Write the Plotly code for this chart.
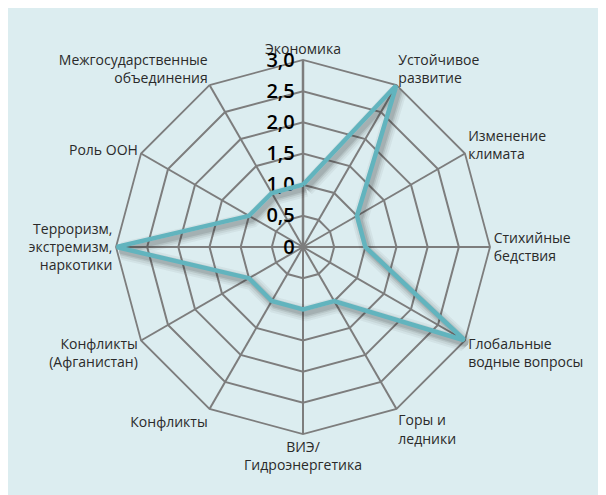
import plotly.graph_objects as go

categories = [
    "Экономика",
    "Устойчивое<br>развитие",
    "Изменение<br>климата",
    "Стихийные<br>бедствия",
    "Глобальные<br>водные вопросы",
    "Горы и<br>ледники",
    "ВИЭ/<br>Гидроэнергетика",
    "Конфликты",
    "Конфликты<br>(Афганистан)",
    "Терроризм,<br>экстремизм,<br>наркотики",
    "Роль ООН",
    "Межгосударственные<br>объединения",
]
values = [1.0, 3.0, 1.0, 1.0, 3.0, 1.0, 1.0, 1.0, 1.0, 3.0, 1.0, 1.0]
tick_vals = [0, 0.5, 1.0, 1.5, 2.0, 2.5, 3.0]
tick_text = ["0", "0,5", "1,0", "1,5", "2,0", "2,5", "3,0"]

OFF = 8  # page body margin
W, H = 606 - OFF, 495 - OFF
cx, cy, R = 303 - OFF, 247 - OFF, 187

def dom(dx=0, dy=0):
    x0 = (cx + dx - R) / W
    x1 = (cx + dx + R) / W
    yc = H - (cy + dy)
    return dict(x=[x0, x1], y=[(yc - R) / H, (yc + R) / H])

theta = categories + [categories[0]]
r = values + [values[0]]

fig = go.Figure()

# shadow layers (blurred look)
for w, a in [(16, 0.05), (12, 0.07), (8, 0.10), (5, 0.12)]:
    fig.add_trace(go.Scatterpolar(
        r=r, theta=theta, mode="lines", subplot="polar2",
        line=dict(color=f"rgba(40,40,40,{a})", width=w),
        hoverinfo="skip", showlegend=False,
    ))

fig.add_trace(go.Scatterpolar(
    r=r, theta=theta, mode="lines", subplot="polar3",
    line=dict(color="#62b4be", width=4.5),
    showlegend=False,
))

# invisible trace to set categories on the grid polar
fig.add_trace(go.Scatterpolar(
    r=values, theta=categories, mode="lines", subplot="polar",
    line=dict(color="rgba(0,0,0,0)", width=0), hoverinfo="skip", showlegend=False,
))

grid = "#7d7d7d"
base_polar = dict(
    bgcolor="rgba(0,0,0,0)",
    gridshape="linear",
)

fig.update_layout(
    width=W, height=H,
    margin=dict(l=0, r=0, t=0, b=0),
    paper_bgcolor="white",
    font=dict(family="Open Sans, Noto Sans, sans-serif", color="#2a2a2a"),
    polar=dict(
        domain=dom(),
        **base_polar,
        radialaxis=dict(
            range=[0, 3], angle=90, tickangle=90,
            tickvals=tick_vals, ticktext=tick_text,
            tickfont=dict(size=20, color="#000000", weight=600),
            showline=True, linecolor=grid, linewidth=2.5,
            gridcolor=grid, gridwidth=1.8, ticks="", side="counterclockwise",
        ),
        angularaxis=dict(
            rotation=90, direction="clockwise",
            categoryarray=categories, categoryorder="array",
            tickfont=dict(size=14, color="#2a2a2a"),
            gridcolor=grid, gridwidth=1.8,
            linecolor=grid, linewidth=1.8, showline=True, ticks="",
        ),
    ),
)

hidden_polar = lambda d: dict(
    domain=d, **base_polar,
    radialaxis=dict(range=[0, 3], visible=False, showgrid=False),
    angularaxis=dict(rotation=90, direction="clockwise",
                     categoryarray=categories, categoryorder="array",
                     visible=False, showgrid=False, showline=False),
)
fig.update_layout(polar2=hidden_polar(dom(3, 4)), polar3=hidden_polar(dom()))

fig.add_shape(type="rect", xref="paper", yref="paper",
              x0=0, x1=1, y0=0, y1=1,
              fillcolor="#dcedf0", line=dict(width=0), layer="below")

fig.write_html("out.html")
